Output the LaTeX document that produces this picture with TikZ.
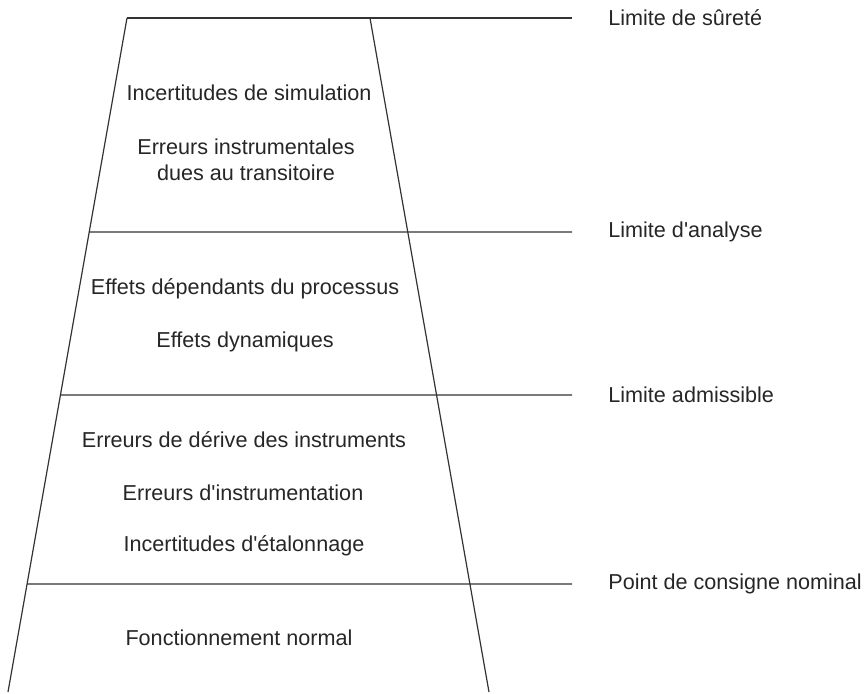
\documentclass[tikz,border=0pt]{standalone}
\usepackage{fontspec}
\setmainfont{Liberation Sans}
\usepackage{tikz}
\usetikzlibrary{calc}

\begin{document}
\begin{tikzpicture}[x=0.5pt, y=-0.5pt,
  item/.style={font=\fontsize{10.8}{13}\selectfont, align=center, inner sep=0pt, text=black!85},
  limit/.style={font=\fontsize{10.8}{13}\selectfont, anchor=west, inner sep=0pt, text=black!85},
  edge/.style={line width=0.6pt, draw=black!80}
]
\useasboundingbox (0,0) rectangle (864,693);
% trapezoid sides
\coordinate (tl) at (127,18);
\coordinate (tr) at (370,18);
\coordinate (bl) at (8,692);
\coordinate (br) at (489,692);
\draw[edge] (tl) -- (bl);
\draw[edge] (tr) -- (br);
% limits
\foreach \n/\y/\t in {sur/18/Limite de sûreté, ana/232/Limite d\textquotesingle analyse,
                      adm/395/Limite admissible, nom/584/Point de consigne nominal}{
  \coordinate (l\n) at ($(tl)!{(\y-18)/674}!(bl)$);
  \coordinate (e\n) at (572,\y);
  \node[limit] (lab\n) at (608,\y) {\t};
  \draw[edge] (l\n) -- (e\n);
}
% zone texts
\node[item] (sim) at (249,93) {Incertitudes de simulation};
\node[item] (tra) at (246,160) {Erreurs instrumentales\\dues au transitoire};
\node[item] (pro) at (245,289) {Effets dépendants du processus};
\node[item] (dyn) at (245,342) {Effets dynamiques};
\node[item] (der) at (244,440) {Erreurs de dérive des instruments};
\node[item] (ins) at (243,493) {Erreurs d\textquotesingle instrumentation};
\node[item] (eta) at (244,546) {Incertitudes d\textquotesingle étalonnage};
\node[item] (nor) at (239,638) {Fonctionnement normal};
\end{tikzpicture}
\end{document}
